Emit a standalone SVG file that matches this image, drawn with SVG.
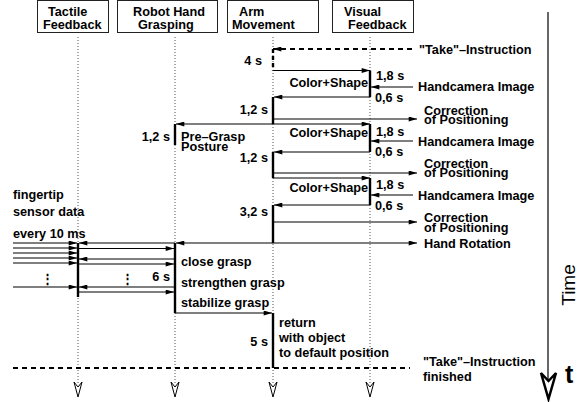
<svg xmlns="http://www.w3.org/2000/svg" width="584" height="402" viewBox="0 0 584 402">
<style>
text{font-family:"Liberation Sans",Arial,sans-serif;font-size:12.7px;font-weight:bold;fill:#000}
.box{fill:#fff;stroke:#222;stroke-width:1}
.life{stroke:#555;stroke-width:1;stroke-dasharray:1,2}
.ln{stroke:#000;stroke-width:1.2;fill:none}
.act{stroke:#000;stroke-width:2.4;fill:none}
.dash{stroke:#000;stroke-width:2;stroke-dasharray:5,4;fill:none}
.open{fill:#fff;stroke:#000;stroke-width:1}
.e{marker-end:url(#ah)}
.s{marker-start:url(#ah)}
.end{text-anchor:end}
</style>
<defs>
<marker id="ah" viewBox="0 0 10 6" refX="10" refY="3" markerWidth="11" markerHeight="5" markerUnits="userSpaceOnUse" orient="auto-start-reverse">
<path d="M0,0 L10,3 L0,6 Z" fill="#000"/>
</marker>
</defs>

<g id="tactile">
<rect class="box" x="37.5" y="0.5" width="71" height="32"/>
<text x="48" y="16">Tactile</text>
<text x="43" y="29">Feedback</text>
<line class="life" x1="78" y1="37" x2="78" y2="383"/>
<path class="open" d="M74,382 L78,397 L82,382 L78,387 Z"/>
</g>
<g id="robot">
<rect class="box" x="117.5" y="0.5" width="100" height="32"/>
<text x="133" y="16">Robot Hand</text>
<text x="138" y="29">Grasping</text>
<line class="life" x1="175" y1="37" x2="175" y2="383"/>
<path class="open" d="M171,382 L175,397 L179,382 L175,387 Z"/>
</g>
<g id="arm">
<rect class="box" x="227.5" y="0.5" width="91" height="32"/>
<text x="239" y="16">Arm</text>
<text x="232" y="29">Movement</text>
<line class="life" x1="273" y1="37" x2="273" y2="383"/>
<path class="open" d="M269,382 L273,397 L277,382 L273,387 Z"/>
</g>
<g id="visual">
<rect class="box" x="332.5" y="0.5" width="81" height="32"/>
<text x="344" y="16">Visual</text>
<text x="348" y="29">Feedback</text>
<line class="life" x1="370" y1="37" x2="370" y2="383"/>
<path class="open" d="M366,382 L370,397 L374,382 L370,387 Z"/>
</g>
<g id="time">
<line x1="548" y1="12" x2="548" y2="390" stroke="#000" stroke-width="1.2"/>
<path d="M541,373 L548.5,399 L556,373 L548.5,381 Z" fill="#fff" stroke="#000" stroke-width="2.5" stroke-linejoin="miter"/>
<text transform="translate(575,285) rotate(-90)" style="font-weight:normal;font-size:19px;text-anchor:middle">Time</text>
<text x="565" y="383" style="font-size:25px">t</text>
</g>

<g id="connectors">
<!-- take instruction -->
<line class="dash e" x1="412" y1="49" x2="273" y2="49"/>
<line class="act" x1="273" y1="49" x2="273" y2="70.5" stroke-dasharray="4,3"/>
<!-- cycle 1 -->
<line class="ln e" x1="273" y1="70.5" x2="370" y2="70.5"/>
<line class="act" x1="370" y1="70.5" x2="370" y2="97"/>
<line class="ln e" x1="413" y1="87" x2="371" y2="87"/>
<line class="ln e" x1="370" y1="97" x2="274" y2="97"/>
<line class="act" x1="273" y1="97" x2="273" y2="124"/>
<line class="ln e" x1="273" y1="119" x2="417" y2="119"/>
<!-- pre-grasp + cycle 2 -->
<line class="ln s e" x1="176" y1="124" x2="370" y2="124"/>
<line class="act" x1="175" y1="124" x2="175" y2="145"/>
<line class="act" x1="370" y1="124" x2="370" y2="152"/>
<line class="ln e" x1="413" y1="141" x2="371" y2="141"/>
<line class="ln e" x1="370" y1="152" x2="274" y2="152"/>
<line class="act" x1="273" y1="152" x2="273" y2="178"/>
<line class="ln e" x1="273" y1="173" x2="417" y2="173"/>
<!-- cycle 3 -->
<line class="ln e" x1="273" y1="178" x2="370" y2="178"/>
<line class="act" x1="370" y1="178" x2="370" y2="205"/>
<line class="ln e" x1="413" y1="195" x2="371" y2="195"/>
<line class="ln e" x1="370" y1="205" x2="274" y2="205"/>
<line class="act" x1="273" y1="205" x2="273" y2="243"/>
<line class="ln e" x1="273" y1="222" x2="417" y2="222"/>
<!-- hand rotation / grasp -->
<line class="ln s e" x1="176" y1="243" x2="417" y2="243"/>
<line class="act" x1="175" y1="243" x2="175" y2="313"/>
<line class="ln e" x1="175" y1="243" x2="79" y2="243"/>
<line class="ln e" x1="78" y1="248.5" x2="174" y2="248.5"/>
<line class="ln e" x1="175" y1="259" x2="79" y2="259"/>
<line class="ln e" x1="78" y1="264" x2="174" y2="264"/>
<line class="ln e" x1="175" y1="287" x2="79" y2="287"/>
<line class="ln e" x1="78" y1="292" x2="174" y2="292"/>
<!-- tactile sensor inputs -->
<line class="ln e" x1="13" y1="243" x2="77" y2="243"/>
<line class="ln e" x1="13" y1="248" x2="77" y2="248"/>
<line class="ln e" x1="13" y1="253" x2="77" y2="253"/>
<line class="ln e" x1="13" y1="258" x2="77" y2="258"/>
<line class="ln e" x1="13" y1="263" x2="77" y2="263"/>
<line class="ln e" x1="13" y1="287" x2="77" y2="287"/>
<line class="act" x1="78" y1="243" x2="78" y2="297"/>
<!-- return -->
<line class="ln e" x1="175" y1="313" x2="272" y2="313"/>
<line class="act" x1="273" y1="313" x2="273" y2="368"/>
<line class="dash" x1="13" y1="368" x2="410" y2="368"/>
</g>

<g id="labels">
<text x="419" y="54">"Take"–Instruction</text>
<text class="end" x="262" y="65">4 s</text>
<text class="end" x="368" y="87">Color+Shape</text>
<text x="376" y="80">1,8 s</text>
<text x="418" y="91">Handcamera Image</text>
<text x="375" y="102">0,6 s</text>
<text class="end" x="268" y="114">1,2 s</text>
<text x="424" y="115">Correction</text>
<text x="424" y="124">of Positioning</text>
<text class="end" x="170" y="141">1,2 s</text>
<text x="181" y="141">Pre–Grasp</text>
<text x="181" y="151">Posture</text>
<text class="end" x="368" y="137">Color+Shape</text>
<text x="376" y="136">1,8 s</text>
<text x="418" y="146">Handcamera Image</text>
<text x="375" y="156">0,6 s</text>
<text class="end" x="268" y="162">1,2 s</text>
<text x="424" y="168">Correction</text>
<text x="424" y="177">of Positioning</text>
<text class="end" x="368" y="192">Color+Shape</text>
<text x="376" y="189">1,8 s</text>
<text x="418" y="200">Handcamera Image</text>
<text x="375" y="210">0,6 s</text>
<text class="end" x="268" y="216">3,2 s</text>
<text x="424" y="222">Correction</text>
<text x="424" y="232">of Positioning</text>
<text x="424" y="248">Hand Rotation</text>
<text x="13" y="199">fingertip</text>
<text x="13" y="216">sensor data</text>
<text x="13" y="238">every 10 ms</text>
<text x="181" y="266">close grasp</text>
<text x="181" y="287">strengthen grasp</text>
<text x="181" y="307">stabilize grasp</text>
<text class="end" x="170" y="281">6 s</text>
<text x="41" y="283">⋮</text>
<text x="121" y="283">⋮</text>
<text class="end" x="268" y="346">5 s</text>
<text x="279" y="327">return</text>
<text x="279" y="342">with object</text>
<text x="279" y="357">to default position</text>
<text x="423" y="366">"Take"–Instruction</text>
<text x="423" y="381">finished</text>
</g>
</svg>
